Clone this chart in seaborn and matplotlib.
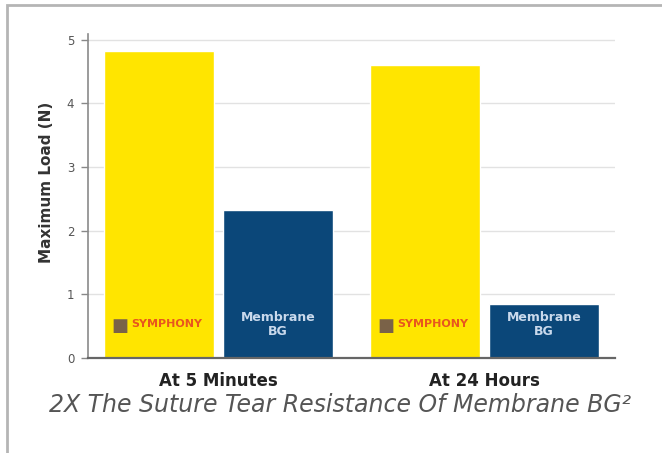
import matplotlib
matplotlib.use('Agg')
import numpy as np
import pandas as pd
import matplotlib.pyplot as plt
import seaborn as sns
from matplotlib.patches import Rectangle

sns.set_theme(style="white")
plt.rcParams['font.family'] = ['DejaVu Sans']

# ==========================================
# Data
# ==========================================
timepoints = ["At 5 Minutes", "At 24 Hours"]
products = ["SYMPHONY", "Membrane BG"]
symphony_load = [4.82, 4.61]
membrane_load = [2.32, 0.84]
bar_labels = ["SYMPHONY", "Membrane\nBG"]
y_ticks = [0, 1, 2, 3, 4, 5]
caption = "2X The Suture Tear Resistance Of Membrane BG\u00b2"

df = pd.DataFrame({
    "time": timepoints * 2,
    "product": [products[0]] * 2 + [products[1]] * 2,
    "load": symphony_load + membrane_load,
})

colors = {"SYMPHONY": "#FFE500", "Membrane BG": "#0B4779"}

fig = plt.figure(figsize=(6.62, 4.53), dpi=100)
ax = fig.add_axes([0.133, 0.210, 0.796, 0.716])

sns.barplot(data=df, x="time", y="load", hue="product", order=timepoints,
            hue_order=products, palette=colors, width=0.894, gap=0.076,
            saturation=1, legend=False, ax=ax)

ax.set_xlim(-0.49, 1.49)
ax.set_ylim(0, 5.1)
ax.set_yticks(y_ticks)
ax.set_yticklabels([str(t) for t in y_ticks], color="#555555", fontsize=8.5)
ax.yaxis.grid(True, color="#e2e2e2", linewidth=1.0)
ax.set_axisbelow(True)

ax.set_ylabel("Maximum Load (N)", fontsize=11, fontweight="bold", color="#333333")
ax.yaxis.set_label_coords(-0.064, 0.54)
ax.set_xlabel("")
ax.tick_params(axis="x", length=0, labelsize=12, pad=10, colors="#222222")
for lbl in ax.get_xticklabels():
    lbl.set_fontweight("bold")
ax.tick_params(axis="y", direction="out", length=5, width=1, color="#888888", pad=5, left=True)

for side in ["top", "right"]:
    ax.spines[side].set_visible(False)
ax.spines["left"].set_color("#8a8a8a")
ax.spines["left"].set_linewidth(1.2)
ax.spines["bottom"].set_color("#666666")
ax.spines["bottom"].set_linewidth(1.6)

# labels inside the bars (bars come grouped by hue level)
for i, patch in enumerate(ax.patches[:4]):
    cx = patch.get_x() + patch.get_width() / 2
    if i < 2:
        ax.text(patch.get_x() + patch.get_width() * 0.14, 0.5, "\u25a0", color="#7a6248",
                fontsize=13, ha="center", va="center")
        ax.text(cx + 8 / 266, 0.53, bar_labels[0], color="#E8561E", fontsize=8,
                fontweight="bold", ha="center", va="center")
    else:
        ax.text(cx, 0.52, bar_labels[1], color="#C9D9EC", fontsize=9,
                fontweight="bold", ha="center", va="center", linespacing=1.1)

fig.text(0.513, 0.106, caption, ha="center", va="center", fontsize=17,
         style="italic", color="#555555")

# outer frame of the picture
fig.patches.append(Rectangle((0.011, -0.05), 1.2, 1.04, transform=fig.transFigure,
                             fill=False, edgecolor="#b5b5b5", linewidth=2.0))

fig.savefig("out.png", dpi=100)
